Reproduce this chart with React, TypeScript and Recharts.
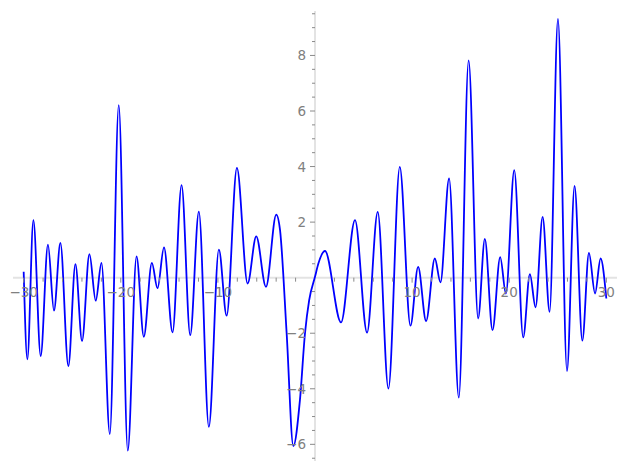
import { Line, LineChart, ReferenceLine, XAxis, YAxis } from 'recharts';

// Wiggly curve on axes crossing at the origin (Sage-style plot).
// Points are the extrema (plus a few shoulder points);
// a monotone curve through them gives the smooth oscillation.

const CURVE_X = [
  -30, -29.62, -29.0, -28.25, -27.5, -26.88, -26.22, -25.4, -24.67, -23.99,
  -23.23, -22.58, -21.99, -21.13, -20.21, -19.28, -18.38, -17.63, -16.8, -16.22,
  -15.55, -14.67, -13.74, -12.85, -11.96, -10.93, -9.9, -9.1, -8.04, -6.94,
  -6.05, -5.05, -3.99, -3.6, -2.92, -2.23, -1.55, -1.03, -0.6, 0, 0.34,
  1.03, 2.68, 4.12, 5.36, 6.46, 7.56, 8.73, 9.83, 10.62, 11.44,
  12.34, 12.92, 13.81, 14.81, 15.82, 16.8, 17.49, 18.28, 19.07, 19.66,
  20.52, 21.44, 22.13, 22.71, 23.44, 24.16, 25.02, 25.95, 26.73, 27.53,
  28.21, 28.84, 29.41, 30,
];

const CURVE_Y = [
  0.21, -2.94, 2.07, -2.82, 1.19, -1.19, 1.25, -3.18, 0.49, -2.28,
  0.85, -0.83, 0.53, -5.63, 6.21, -6.23, 0.77, -2.13, 0.53, -0.38,
  1.09, -1.97, 3.33, -2.07, 2.38, -5.37, 1.01, -1.37, 3.95, -0.21,
  1.49, -0.33, 2.27, 1.71, -2.0, -6.06, -4.4, -2.0, -0.81, 0.03, 0.5,
  0.96, -1.61, 2.07, -1.98, 2.37, -3.99, 3.99, -1.73, 0.39, -1.56,
  0.69, -0.17, 3.57, -4.32, 7.82, -1.47, 1.4, -1.89, 0.74, -0.57,
  3.87, -2.15, 0.13, -1.07, 2.19, -1.23, 9.32, -3.36, 3.3, -2.27,
  0.89, -0.57, 0.69, -0.75,
];

const X_MAJOR = [-30, -20, -10, 10, 20, 30];
const X_MINOR = [-28, -26, -24, -22, -18, -16, -14, -12, -8, -6, -4, -2, 2, 4, 6, 8, 12, 14, 16, 18, 22, 24, 26, 28];
const Y_MAJOR = [-6, -4, -2, 2, 4, 6, 8];
const Y_MINOR = [-6.5, -5.5, -5, -4.5, -3.5, -3, -2.5, -1.5, -1, -0.5, 0.5, 1, 1.5, 2.5, 3, 3.5, 4.5, 5, 5.5, 6.5, 7, 7.5, 8.5, 9, 9.5];

const W = 627;
const H = 470;
// plot area: left 13, right 10, top 11, bottom 9 (1px taken by each axis)
const MARGIN = { top: 11, right: 10, bottom: 8, left: 12 };
const PLOT = { left: 13, right: 10, top: 11, bottom: 9 };
const X_MIN = -31.1;
const X_MAX = 31.1;
const Y_MIN = -6.6;
const Y_MAX = 9.6;

// pixel position of the origin, from the same linear scale the chart uses
const X0 = PLOT.left + ((0 - X_MIN) / (X_MAX - X_MIN)) * (W - PLOT.left - PLOT.right);
const Y0 = PLOT.top + ((Y_MAX - 0) / (Y_MAX - Y_MIN)) * (H - PLOT.top - PLOT.bottom);

const AXIS = '#e3e3e3';
const TICK = '#8a8a8a';
const LABEL = '#808080';
const FONT = 'DejaVu Sans, sans-serif';

const data = CURVE_X.map((x, i) => ({ x, y: CURVE_Y[i] }));

const fmt = (v: number) => (v < 0 ? `\u2212${Math.abs(v)}` : `${v}`);

function XTick(props: any) {
  const { x, payload } = props;
  const v = payload.value as number;
  const major = X_MAJOR.includes(v);
  return (
    <g>
      <line x1={x} x2={x} y1={Y0} y2={Y0 + (major ? 5 : 4)} stroke={TICK} strokeWidth={1} />
      {major ? (
        <text x={x} y={Y0 + 19} textAnchor="middle" fill={LABEL} fontSize={13.5} fontFamily={FONT}>
          {fmt(v)}
        </text>
      ) : null}
    </g>
  );
}

function YTick(props: any) {
  const { y, payload } = props;
  const v = payload.value as number;
  const major = Y_MAJOR.includes(v);
  return (
    <g>
      <line x1={X0 - (major ? 5 : 3)} x2={X0} y1={y} y2={y} stroke={TICK} strokeWidth={1} />
      {major ? (
        <text x={X0 - 9} y={y + 5} textAnchor="end" fill={LABEL} fontSize={13.5} fontFamily={FONT}>
          {fmt(v)}
        </text>
      ) : null}
    </g>
  );
}

export default function App() {
  return (
    <div style={{ position: 'absolute', left: 0, top: 0, width: W, height: H, background: '#fff' }}>
      <LineChart width={W} height={H} data={data} margin={MARGIN}>
        <XAxis
          type="number"
          dataKey="x"
          domain={[X_MIN, X_MAX]}
          allowDataOverflow
          ticks={[...X_MAJOR, ...X_MINOR].sort((a, b) => a - b)}
          interval={0}
          height={1}
          axisLine={false}
          tickLine={false}
          tick={XTick}
        />
        <YAxis
          type="number"
          domain={[Y_MIN, Y_MAX]}
          allowDataOverflow
          ticks={[...Y_MAJOR, ...Y_MINOR].sort((a, b) => a - b)}
          interval={0}
          width={1}
          axisLine={false}
          tickLine={false}
          tick={YTick}
        />
        <ReferenceLine y={0} stroke={AXIS} strokeWidth={2} />
        <ReferenceLine x={0} stroke={AXIS} strokeWidth={2} />
        <Line
          type="monotone"
          dataKey="y"
          stroke="#0000ff"
          strokeWidth={1.8}
          dot={false}
          activeDot={false}
          isAnimationActive={false}
        />
      </LineChart>
    </div>
  );
}
